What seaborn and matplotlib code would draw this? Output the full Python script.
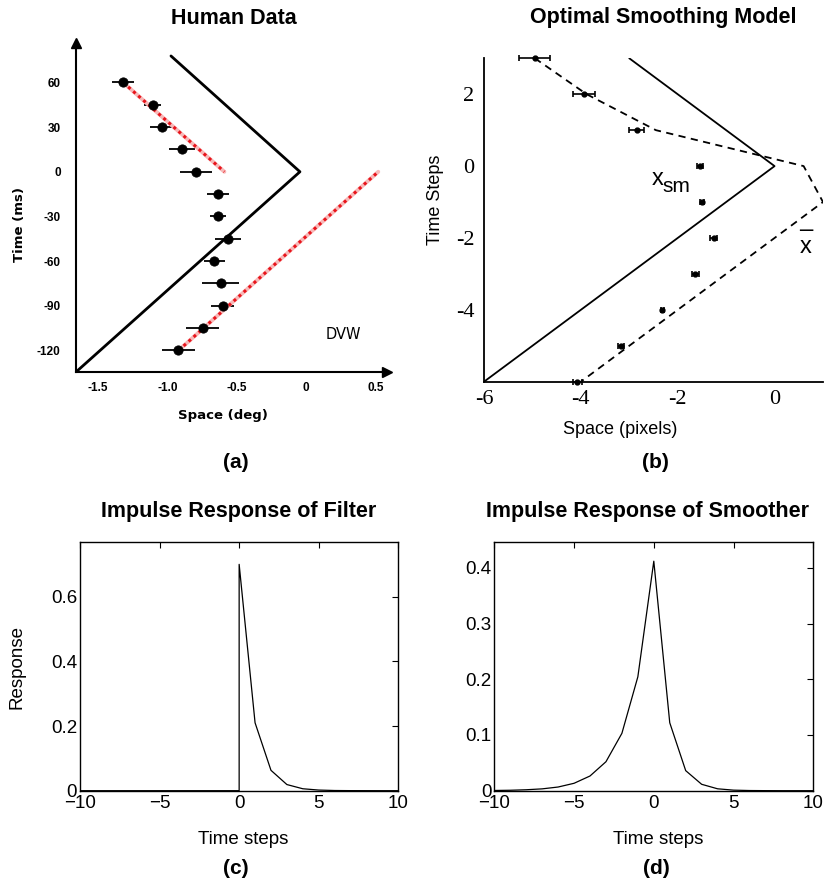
import matplotlib
matplotlib.use("Agg")
import matplotlib.pyplot as plt
import seaborn as sns
import numpy as np

# ---------------- data ----------------
# (a) Human data
human_time = [60, 45, 30, 15, 0, -15, -30, -45, -60, -75, -90, -105, -120]
human_space = [-1.319, -1.107, -1.040, -0.893, -0.797, -0.636, -0.636, -0.566,
               -0.663, -0.616, -0.602, -0.746, -0.922]
human_err = [0.078, 0.060, 0.087, 0.093, 0.115, 0.077, 0.056, 0.093,
             0.075, 0.132, 0.084, 0.120, 0.119]
stim_space = [-1.66, -0.045, -0.975]
stim_time = [-134.5, 0, 77.8]
red_upper_space = [-1.32, -0.59]
red_upper_time = [60, 0]
red_lower_space = [-0.92, 0.52]
red_lower_time = [-120, 0]

# (b) Optimal smoothing model
model_time = [3, 2, 1, 0, -1, -2, -3, -4, -5, -6]
model_space = [-4.95, -3.93, -2.85, -1.54, -1.49, -1.26, -1.64, -2.32, -3.17, -4.07]
model_err = [0.32, 0.23, 0.15, 0.07, 0.04, 0.08, 0.07, 0.03, 0.07, 0.10]
true_space = [-6, 0, -3]
true_time = [-6, 0, 3]
xbar_time = [3, 2, 1, 0, -1, -2, -3, -4, -5, -6]
xbar_space = [-4.95, -3.88, -2.45, 0.6, 1.0, 0.0, -1.0, -2.0, -3.0, -4.0]

# (c) filter impulse response
filter_t = [-10, -9, -8, -7, -6, -5, -4, -3, -2, -1, 0, 0,
            1, 2, 3, 4, 5, 6, 7, 8, 9, 10]
filter_r = [0, 0, 0, 0, 0, 0, 0, 0, 0, 0, 0, 0.70,
            0.21, 0.063, 0.019, 0.006, 0.002, 0.0006, 0.0002, 0.0001, 0, 0]

# (d) smoother impulse response
smooth_t = list(range(-10, 11))
smooth_r = [0.0004, 0.0008, 0.0017, 0.0033, 0.0066, 0.0133, 0.0264, 0.052,
            0.103, 0.2045, 0.412, 0.122, 0.036, 0.0115, 0.0034, 0.001,
            0.0003, 0.0001, 0, 0, 0]

# ---------------- style ----------------
sns.set_style("white")
plt.rcParams['font.family'] = ['Liberation Sans', 'DejaVu Sans']
plt.rcParams['text.color'] = 'black'
plt.rcParams['axes.labelcolor'] = 'black'
plt.rcParams['xtick.color'] = 'black'
plt.rcParams['ytick.color'] = 'black'
plt.rcParams['axes.edgecolor'] = 'black'

W, H = 825, 882
fig = plt.figure(figsize=(W / 100, H / 100), dpi=100)


def rect(l, r, t, b):
    return [l / W, 1 - b / H, (r - l) / W, (b - t) / H]


def ftext(x, y, s, **kw):
    fig.text(x / W, 1 - y / H, s, ha='center', va='center', color='black', **kw)


# ---------------- (a) ----------------
axA = fig.add_axes(rect(76, 387, 43, 372))
axA.errorbar(human_space, human_time, xerr=human_err, fmt='none',
             ecolor='k', elinewidth=1.3, capsize=0, zorder=2)
sns.scatterplot(x=human_space, y=human_time, ax=axA, color='k', s=45,
                edgecolor='k', zorder=3)
sns.lineplot(x=stim_space, y=stim_time, ax=axA, color='k', lw=2.0,
             estimator=None, sort=False)
for xs, ys in [(red_upper_space, red_upper_time), (red_lower_space, red_lower_time)]:
    sns.lineplot(x=xs, y=ys, ax=axA, color='#f7b8b8', lw=2.8,
                 estimator=None, sort=False)
    sns.lineplot(x=xs, y=ys, ax=axA, color='#e8141b', lw=2.2,
                 estimator=None, sort=False, dashes=False,
                 linestyle=(0, (1.0, 1.2)))
axA.set_xlim(-1.66, 0.583)
axA.set_ylim(-134.5, 86.5)
for s in ['top', 'right']:
    axA.spines[s].set_visible(False)
for s in ['left', 'bottom']:
    axA.spines[s].set_linewidth(1.5)
    axA.spines[s].set_color('k')
axA.plot(1, 0, '>', color='k', ms=7, transform=axA.transAxes, clip_on=False)
axA.plot(0, 1, '^', color='k', ms=7, transform=axA.transAxes, clip_on=False)
axA.set_xticks([-1.5, -1.0, -0.5, 0, 0.5])
axA.set_xticklabels(['-1.5', '-1.0', '-0.5', '0', '0.5'])
axA.set_yticks(list(range(-120, 76, 15)))
axA.set_yticklabels([str(v) if v % 30 == 0 else '' for v in range(-120, 76, 15)])
axA.tick_params(direction='in', length=4, width=1.2, labelsize=8.5,
                colors='k')
axA.tick_params(axis='x', pad=7)
axA.tick_params(axis='y', pad=11)
for lab in axA.get_xticklabels() + axA.get_yticklabels():
    lab.set_fontweight('bold')
axA.text(0.267, -109, 'DVW', ha='center', va='center', fontsize=10.5,
         family='DejaVu Sans', color='black')
axA.set_xlabel('')
axA.set_ylabel('')
ftext(223, 416, 'Space (deg)', fontsize=9.5, family='DejaVu Sans', fontweight='bold')
ftext(20, 225, 'Time (ms)', fontsize=9.5, family='DejaVu Sans', fontweight='bold',
      rotation=90)
ftext(234, 18, 'Human Data', fontsize=15.5, fontweight='bold')
ftext(236, 463, '(a)', fontsize=15, fontweight='bold')

# ---------------- (b) ----------------
axB = fig.add_axes(rect(484, 823, 58.3, 381.7))
sns.lineplot(x=true_space, y=true_time, ax=axB, color='k', lw=1.3,
             estimator=None, sort=False)
sns.lineplot(x=xbar_space, y=xbar_time, ax=axB, color='k', lw=1.3,
             estimator=None, sort=False, linestyle=(0, (4, 3)))
axB.errorbar(model_space, model_time, xerr=model_err, fmt='o', color='k',
             ms=3.5, elinewidth=1.2, capsize=2, capthick=1.2, zorder=3,
             clip_on=False)
axB.set_xlim(-6, 1)
axB.set_ylim(-6, 3)
for s in ['top', 'right']:
    axB.spines[s].set_visible(False)
for s in ['left', 'bottom']:
    axB.spines[s].set_linewidth(1.3)
    axB.spines[s].set_color('k')
axB.set_xticks(list(range(-6, 2)))
axB.set_xticklabels([str(v) if v % 2 == 0 and v <= 0 else '' for v in range(-6, 2)])
axB.set_yticks(list(range(-6, 4)))
axB.set_yticklabels([str(v) if v in (-4, -2, 0, 2) else '' for v in range(-6, 4)])
axB.tick_params(direction='in', length=4, width=1.0, colors='k', labelsize=16)
axB.tick_params(axis='x', pad=6)
axB.tick_params(axis='y', pad=7)
for lab in axB.get_xticklabels() + axB.get_yticklabels():
    lab.set_family(['Liberation Serif', 'DejaVu Serif'])
axB.set_xlabel('')
axB.set_ylabel('')
axB.text(-2.415, -0.355, 'x', ha='center', va='center', fontsize=17, color='black')
axB.text(-2.03, -0.58, 'sm', ha='center', va='center', fontsize=15, color='black')
axB.text(0.64, -2.25, 'x', ha='center', va='center', fontsize=17, color='black')
axB.text(0.64, -2.11, '\u00af', ha='center', va='center', fontsize=17, color='black')
ftext(620, 430, 'Space (pixels)', fontsize=13)
ftext(436, 200, 'Time Steps', fontsize=13, rotation=90)
ftext(663, 18, 'Optimal Smoothing Model', fontsize=15.5, fontweight='bold')
ftext(655, 463, '(b)', fontsize=15, fontweight='bold')


# ---------------- (c), (d) ----------------
def impulse_axes(ax, t, r, ymax, yticks, ylabels):
    sns.lineplot(x=t, y=r, ax=ax, color='k', lw=0.9, estimator=None, sort=False)
    ax.set_xlim(-10, 10)
    ax.set_ylim(0, ymax)
    ax.set_xticks([-10, -5, 0, 5, 10])
    ax.set_yticks(yticks)
    ax.set_yticklabels(ylabels)
    for s in ax.spines.values():
        s.set_visible(True)
        s.set_linewidth(1.0)
        s.set_color('k')
    ax.tick_params(direction='in', length=4, width=0.8, colors='k',
                   labelsize=13.5, top=True, right=True, pad=3)
    ax.tick_params(axis='y', pad=2)
    ax.set_xlabel('')
    ax.set_ylabel('')


axC = fig.add_axes(rect(80, 398.3, 541.7, 790.7))
impulse_axes(axC, filter_t, filter_r, 0.77, [0, 0.2, 0.4, 0.6],
             ['0', '0.2', '0.4', '0.6'])
ftext(239, 512, 'Impulse Response of Filter', fontsize=15.5, fontweight='bold')
ftext(243, 840, 'Time steps', fontsize=13.5)
ftext(17, 667, 'Response', fontsize=13.5, rotation=90)
ftext(236, 868, '(c)', fontsize=15, fontweight='bold')

axD = fig.add_axes(rect(494.3, 813.3, 541.7, 790.7))
impulse_axes(axD, smooth_t, smooth_r, 0.447, [0, 0.1, 0.2, 0.3, 0.4],
             ['0', '0.1', '0.2', '0.3', '0.4'])
ftext(648, 512, 'Impulse Response of Smoother', fontsize=15.5, fontweight='bold')
ftext(658, 840, 'Time steps', fontsize=13.5)
ftext(656, 868, '(d)', fontsize=15, fontweight='bold')

fig.savefig('out.png', dpi=100, facecolor='white')
